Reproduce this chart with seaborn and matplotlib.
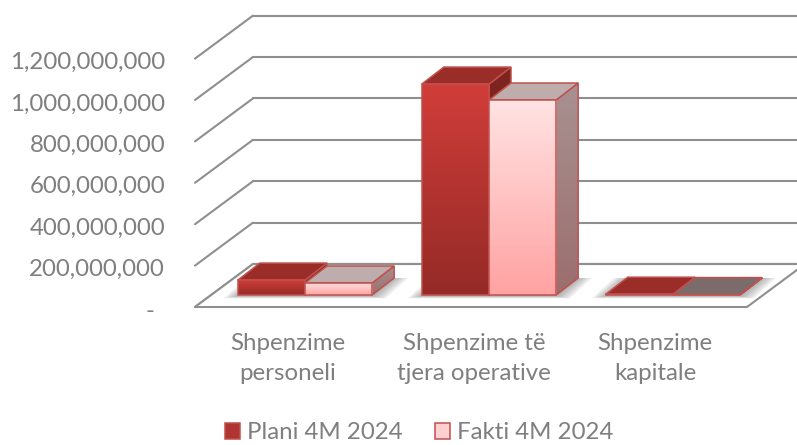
import numpy as np
import pandas as pd
import matplotlib
matplotlib.use("Agg")
import matplotlib.pyplot as plt
import seaborn as sns
from matplotlib.colors import LinearSegmentedColormap
from matplotlib.patches import Polygon
from matplotlib.ticker import FuncFormatter
from matplotlib.transforms import ScaledTranslation

categories = ["Shpenzime\npersoneli", "Shpenzime të\ntjera operative", "Shpenzime\nkapitale"]
series_names = ["Plani 4M 2024", "Fakti 4M 2024"]
plani_values = [72000000, 1019000000, 4000000]
fakti_values = [58000000, 942000000, 2000000]
y_ticks = [0, 200000000, 400000000, 600000000, 800000000, 1000000000, 1200000000]

W, H = 797, 445
GRID = "#8f8f8f"
TEXT = "#7f7f7f"
EDGE = "#c0504d"

sns.set_theme(style="white")
plt.rcParams["font.family"] = ["Lato", "DejaVu Sans"]

df = pd.DataFrame({
    "category": categories * 2,
    "series": [series_names[0]] * 3 + [series_names[1]] * 3,
    "value": plani_values + fakti_values,
})

fig = plt.figure(figsize=(W / 100, H / 100), dpi=100)
ax = fig.add_axes([213 / W, 150 / H, 552 / W, 248.4 / H])

sns.barplot(data=df, x="category", y="value", hue="series", ax=ax,
            palette=["#b03532", "#ffd0d0"], saturation=1, width=0.73, gap=0,
            edgecolor=EDGE, linewidth=1.1)

ax.set_xlim(-0.5, 2.5)
ax.set_ylim(0, 1200000000)
ax.autoscale(False)
ax.set_xlabel("")
ax.set_ylabel("")
sns.despine(ax=ax, left=True, bottom=True)
ax.patch.set_alpha(0)

# pixel offsets -> data units
px_x = 3 / 552
px_y = 1200000000 / 248.4


def shift(x, y, dx_px, dy_px):
    return x + dx_px * px_x, y + dy_px * px_y


def gradient_fill(patch, top, bottom, zorder):
    xy = patch.get_xy() if isinstance(patch, Polygon) else patch.get_corners()
    x0, x1 = xy[:, 0].min(), xy[:, 0].max()
    y0, y1 = xy[:, 1].min(), xy[:, 1].max()
    cmap = LinearSegmentedColormap.from_list("g", [bottom, top])
    img = ax.imshow(np.linspace(1, 0, 64).reshape(-1, 1), cmap=cmap, vmin=0, vmax=1,
                    extent=(x0, x1, y0, y1), aspect="auto", zorder=zorder)
    img.set_clip_path(patch)


# wall lines and floor
x_left, x_right = -0.5, 2.5
for t in y_ticks:
    fx, fy = shift(x_left, t, -18, -12)
    bx, by = shift(x_left, t, 40, 31)
    ax.plot([fx, bx], [fy, by], color=GRID, lw=1.5, clip_on=False, zorder=1)
    ex, _ = shift(x_right, t, 60, 31)
    ax.plot([bx, ex], [by, by], color=GRID, lw=1.5, clip_on=False, zorder=1)

floor = [shift(x_left, 0, -18, -12), shift(x_left, 0, 40, 31),
         shift(x_right, 0, 40, 31), shift(x_right, 0, -18, -12)]
ax.add_patch(Polygon(floor, closed=True, facecolor="white", edgecolor=GRID, lw=1.5,
                     clip_on=False, zorder=1.5))
# back line of the floor runs on past the corner
ax.plot([floor[1][0], shift(x_right, 0, 60, 31)[0]], [floor[1][1], floor[1][1]],
        color=GRID, lw=1.5, clip_on=False, zorder=1.6)

top_colors = [["#9b2d29", "#9b2d29", "#9b2d29"], ["#bfadad", "#bfadad", "#7b6b6b"]]
side_colors = [("#7e2420", "#7e2420"), ("#a99191", "#9c6e6e")]
front_colors = [("#d03d39", "#952a27"), ("#ffe2e2", "#ffa3a3")]

for s, container in enumerate(ax.containers):
    base = 3 + s
    for i, bar in enumerate(container):
        x0, x1 = bar.get_x(), bar.get_x() + bar.get_width()
        v = bar.get_height()

        # soft shadow on the floor
        if s == 0:
            xa, xb = container[i].get_x(), ax.containers[1][i].get_x() + ax.containers[1][i].get_width()
            for grow in range(2, 16, 2):
                shadow = [shift(xa, 0, -grow, -1 - grow / 6), shift(xa, 0, 22 - grow, 17),
                          shift(xb, 0, 22 + grow, 17), shift(xb, 0, grow, -1 - grow / 6)]
                ax.add_patch(Polygon(shadow, closed=True, facecolor="#505050", edgecolor="none",
                                     alpha=0.07, clip_on=False, zorder=2))

        side = Polygon([(x1, 0), shift(x1, 0, 22, 17), shift(x1, v, 22, 17), (x1, v)],
                       closed=True, facecolor="none", edgecolor=EDGE, lw=1.1,
                       clip_on=False, zorder=base + 0.3)
        ax.add_patch(side)
        gradient_fill(side, side_colors[s][0], side_colors[s][1], base + 0.1)

        top = Polygon([(x0, v), shift(x0, v, 22, 17), shift(x1, v, 22, 17), (x1, v)],
                      closed=True, facecolor=top_colors[s][i], edgecolor=EDGE, lw=1.1,
                      clip_on=False, zorder=base + 0.4)
        ax.add_patch(top)

        bar.set_facecolor("none")
        bar.set_zorder(base + 0.6)
        bar.set_clip_on(False)
        if v > 10000000:
            gradient_fill(bar, front_colors[s][0], front_colors[s][1], base + 0.5)

# y axis labels sit on the front edge of the wall
ax.set_yticks(y_ticks)
ax.yaxis.set_major_formatter(FuncFormatter(lambda v, p: "-" if v == 0 else f"{v:,.0f}"))
ax.tick_params(axis="y", length=0, pad=34.5, labelsize=17.3, labelcolor=TEXT)
ax.tick_params(axis="x", length=0, pad=27.5, labelsize=17.3, labelcolor=TEXT)

fig.canvas.draw()
for lbl, t in zip(ax.get_yticklabels(), y_ticks):
    dx = -11 if t == 0 else 0
    dy = -15 if t == 0 else -14
    lbl.set_transform(lbl.get_transform() + ScaledTranslation(dx / 100, dy / 100, fig.dpi_scale_trans))

for lbl, dx in zip(ax.get_xticklabels(), [-17, -15, -18]):
    lbl.set_linespacing(1.5)
    lbl.set_transform(lbl.get_transform() + ScaledTranslation(dx / 100, 0, fig.dpi_scale_trans))

sns.move_legend(ax, "lower center", bbox_to_anchor=((419 - 213) / 552, -158 / 248.4), ncol=2,
                frameon=False, title=None, fontsize=17.3, labelcolor=TEXT, handlelength=0.62,
                handleheight=0.62, handletextpad=0.3, columnspacing=1.35, borderaxespad=0)

fig.savefig("out.png", dpi=100)
